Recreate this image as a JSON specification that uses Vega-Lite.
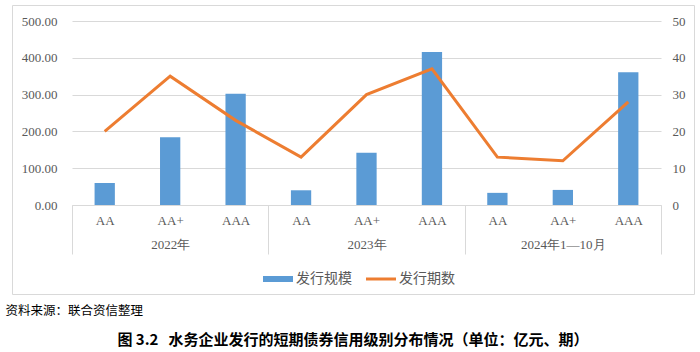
{
  "$schema": "https://vega.github.io/schema/vega-lite/v6.json",
  "width": 682,
  "height": 289,
  "autosize": {"type": "none"},
  "padding": {"left": 12, "top": 5, "right": 6, "bottom": 58},
  "background": "white",
  "config": {
    "view": {"stroke": "#d9d9d9", "strokeWidth": 1}
  },
  "title": {
    "text": "图 3.2\u00a0\u00a0 水务企业发行的短期债券信用级别分布情况（单位：亿元、期）",
    "orient": "bottom",
    "anchor": "middle",
    "font": "Noto Sans CJK SC",
    "fontSize": 15,
    "fontWeight": "bold",
    "color": "#000000",
    "offset": 16
  },
  "data": {
    "values": [
      {"key": "2022年|AA", "period": "2022年", "rating": "AA", "scale": 60, "count": 20},
      {"key": "2022年|AA+", "period": "2022年", "rating": "AA+", "scale": 184, "count": 35},
      {"key": "2022年|AAA", "period": "2022年", "rating": "AAA", "scale": 302, "count": 23},
      {"key": "2023年|AA", "period": "2023年", "rating": "AA", "scale": 40, "count": 13},
      {"key": "2023年|AA+", "period": "2023年", "rating": "AA+", "scale": 142, "count": 30},
      {"key": "2023年|AAA", "period": "2023年", "rating": "AAA", "scale": 416, "count": 37},
      {"key": "2024年1—10月|AA", "period": "2024年1—10月", "rating": "AA", "scale": 33, "count": 13},
      {"key": "2024年1—10月|AA+", "period": "2024年1—10月", "rating": "AA+", "scale": 41, "count": 12},
      {"key": "2024年1—10月|AAA", "period": "2024年1—10月", "rating": "AAA", "scale": 361, "count": 28}
    ]
  },
  "encoding": {
    "x": {
      "field": "key",
      "type": "nominal",
      "sort": null,
      "scale": {"type": "band", "range": [60, 649], "paddingInner": 0, "paddingOuter": 0},
      "axis": {
        "orient": "bottom",
        "offset": -89,
        "title": "资料来源：联合资信整理",
        "titleFont": "Noto Sans CJK SC",
        "titleFontSize": 12.5,
        "titleFontWeight": "normal",
        "titleColor": "#000000",
        "titleAnchor": "start",
        "titleAlign": "left",
        "titleBaseline": "middle",
        "titleX": -7,
        "titleY": 105,
        "labelExpr": "split(datum.value, '|')[1] == 'AA+' ? [split(datum.value, '|')[1], split(datum.value, '|')[0]] : split(datum.value, '|')[1]",
        "labelAngle": 0,
        "labelFont": "Liberation Serif",
        "labelFontSize": 13,
        "labelColor": "#595959",
        "labelLineHeight": 24,
        "labelBaseline": "top",
        "labelPadding": -40,
        "labelOverlap": false,
        "labelBound": false,
        "domainColor": "#d9d9d9",
        "domainWidth": 1,
        "tickBand": "extent",
        "tickSize": 49,
        "tickColor": "#d9d9d9",
        "tickWidth": 1,
        "tickOpacity": {
          "condition": {"test": "datum.value == '2022年|AAA' || datum.value == '2023年|AAA' || datum.value == '2024年1—10月|AAA' || !datum.value", "value": 1},
          "value": 0
        },
        "grid": false
      }
    }
  },
  "layer": [
    {
      "mark": {"type": "bar", "width": {"band": 0.31}},
      "encoding": {
        "y": {
          "field": "scale",
          "type": "quantitative",
          "scale": {"domain": [0, 500], "range": [200, 16], "nice": false},
          "axis": {
            "orient": "left",
            "offset": -60,
            "title": null,
            "values": [0, 100, 200, 300, 400, 500],
            "format": ".2f",
            "labelFont": "Liberation Serif",
            "labelFontSize": 13,
            "labelColor": "#595959",
            "labelPadding": 15,
            "domain": false,
            "ticks": false,
            "grid": true,
            "gridColor": "#d9d9d9",
            "gridWidth": 1
          }
        },
        "color": {
          "datum": "发行规模",
          "type": "nominal",
          "scale": {"domain": ["发行规模", "发行期数"], "range": ["#5b9bd5", "#ed7d31"]},
          "legend": {
            "orient": "none",
            "legendX": 251,
            "legendY": 259,
            "direction": "horizontal",
            "title": null,
            "symbolSize": 900,
            "symbolType": "M-1,-0.2H1V0.2H-1Z",
            "labelFont": "Noto Sans CJK SC",
            "labelFontSize": 14,
            "labelColor": "#595959",
            "labelOffset": 3,
            "columnPadding": 14,
            "encode": {
              "symbols": {
                "update": {
                  "shape": {"signal": "datum.value === '发行规模' ? 'M-1,-0.2H1V0.2H-1Z' : 'M-1,-0.1H1V0.1H-1Z'"},
                  "fill": {"signal": "datum.value === '发行规模' ? '#5b9bd5' : '#ed7d31'"},
                  "stroke": {"value": "transparent"},
                  "strokeWidth": {"value": 0},
                  "opacity": {"value": 1},
                  "fillOpacity": {"value": 1}
                }
              }
            }
          }
        }
      }
    },
    {
      "mark": {"type": "line", "strokeWidth": 3},
      "encoding": {
        "y": {
          "field": "count",
          "type": "quantitative",
          "scale": {"domain": [0, 50], "range": [200, 16], "nice": false},
          "axis": {
            "orient": "right",
            "offset": -33,
            "title": null,
            "values": [0, 10, 20, 30, 40, 50],
            "format": "d",
            "labelFont": "Liberation Serif",
            "labelFontSize": 13,
            "labelColor": "#595959",
            "labelPadding": 11,
            "domain": false,
            "ticks": false,
            "grid": false
          }
        },
        "color": {"datum": "发行期数", "type": "nominal"}
      }
    }
  ],
  "resolve": {"scale": {"y": "independent"}}
}
